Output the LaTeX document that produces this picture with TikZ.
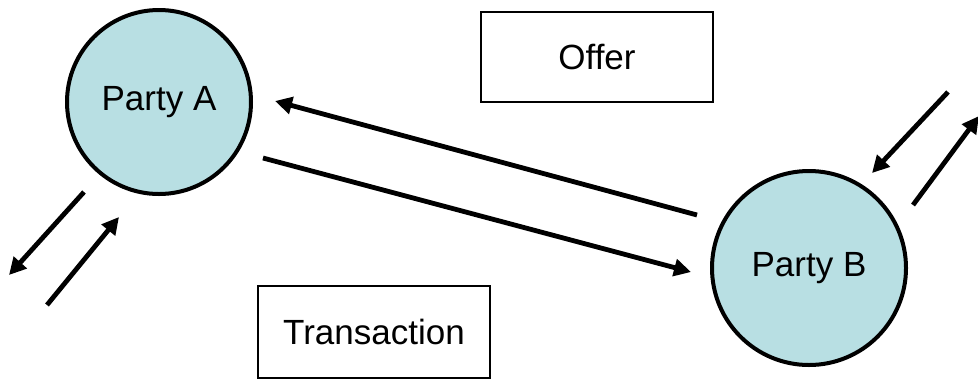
\documentclass[tikz,border=0pt]{standalone}
\usepackage{fontspec}
\setmainfont{Liberation Sans}
\usepackage{xcolor}
\usetikzlibrary{positioning,arrows.meta}
\definecolor{partyfill}{RGB}{184,223,227}

\begin{document}
\begin{tikzpicture}[x=0.5pt, y=-0.5pt]
	\tikzset{
		party/.style={circle, draw=black, line width=2pt, fill=partyfill, inner sep=0pt, font=\fontsize{17.5}{20}\selectfont},
		label box/.style={rectangle, draw=black, line width=1.2pt, inner sep=0pt, font=\fontsize{17.5}{20}\selectfont},
		flow/.style={line width=2.4pt, -{Triangle[length=8.5pt, width=8.5pt]}}
	}
	\useasboundingbox (0,0) rectangle (978,381);
	
	% ---- Parties ----
	\node[party, minimum size=92pt] (pA) at (159,102) {Party A};
	\node[party, minimum size=97pt] (pB) at (809,268) {Party B};
	
	% ---- Labels ----
	\node[label box, minimum width=116pt, minimum height=45pt] (offer) at (597,57) {Offer};
	\node[label box, minimum width=116pt, minimum height=46pt] (trans) at (374,332) {Transaction};
	
	% ---- Exchange between A and B ----
	\coordinate (bOut) at (697,215);
	\coordinate (aIn) at (275,101);
	\coordinate (aOut) at (263,158);
	\coordinate (bIn) at (691,272);
	\draw[flow] (bOut) -- (aIn);
	\draw[flow] (aOut) -- (bIn);
	
	% ---- Stubs at A ----
	\coordinate (a1s) at (84,192);
	\coordinate (a1e) at (9,275);
	\coordinate (a2s) at (47,305);
	\coordinate (a2e) at (119,217);
	\draw[flow] (a1s) -- (a1e);
	\draw[flow] (a2s) -- (a2e);
	
	% ---- Stubs at B ----
	\coordinate (b1s) at (948,92);
	\coordinate (b1e) at (872,173);
	\coordinate (b2s) at (913,205);
	\coordinate (b2e) at (979,116);
	\draw[flow] (b1s) -- (b1e);
	\draw[flow] (b2s) -- (b2e);
\end{tikzpicture}
\end{document}
